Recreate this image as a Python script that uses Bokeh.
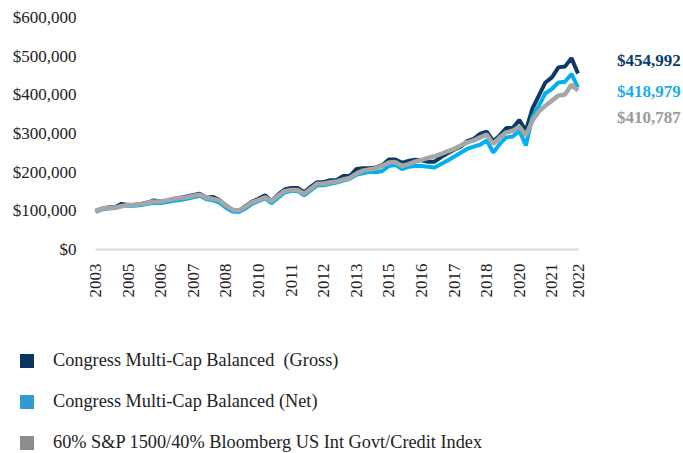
import math
from bokeh.plotting import figure
from bokeh.layouts import column, row
from bokeh.models import Range1d, NumeralTickFormatter, FixedTicker, Legend, LegendItem, Label
from bokeh.embed import file_html
from bokeh.resources import INLINE

quarters = list(range(75))

gross = [100000, 106000, 109000, 109000, 118000, 115000, 116000, 118000, 122000, 127000,
         124000, 127000, 131000, 134000, 137000, 141000, 144000, 134000, 136000, 128000,
         114000, 102000, 100000, 112000, 124000, 131000, 140000, 125000, 142000, 155000,
         159000, 159000, 148000, 162000, 174000, 174000, 179000, 180000, 190000, 190000,
         208000, 210000, 210000, 212000, 218000, 233000, 233000, 224000, 229000, 232000,
         231000, 227000, 227000, 239000, 249000, 258000, 266000, 280000, 286000, 299000,
         305000, 280000, 295000, 314000, 314000, 335000, 307000, 364000, 398000, 432000,
         445000, 471000, 473000, 495000, 454992]

net = [97000, 104000, 106000, 107000, 113000, 113000, 113000, 115000, 118000, 121000,
       120000, 123000, 126000, 128000, 131000, 135000, 139000, 130000, 127000, 121000,
       108000, 98000, 97000, 106000, 118000, 125000, 132000, 120000, 134000, 147000,
       151000, 151000, 140000, 153000, 166000, 166000, 170000, 173000, 178000, 183000,
       193000, 197000, 201000, 200000, 203000, 216000, 219000, 208000, 214000, 216000,
       216000, 214000, 212000, 221000, 230000, 240000, 250000, 260000, 266000, 271000,
       282000, 251000, 273000, 290000, 292000, 307000, 269000, 342000, 372000, 404000,
       415000, 432000, 434000, 454000, 418979]

benchmark = [100000, 106000, 108000, 108500, 112000, 115000, 116000, 118000, 121000, 124000,
             124000, 127000, 131000, 133000, 135000, 139000, 142000, 133000, 131000, 127000,
             114000, 103000, 101000, 111000, 122000, 128000, 135000, 125000, 139000, 151000,
             154000, 154000, 144000, 157000, 170000, 170000, 174000, 176000, 181000, 185000,
             196000, 204000, 207000, 210000, 216000, 225000, 226000, 216000, 221000, 227000,
             232000, 237000, 241000, 247000, 254000, 260000, 269000, 277000, 282000, 290000,
             297000, 273000, 290000, 303000, 307000, 318000, 295000, 333000, 357000, 372000,
             385000, 398000, 401000, 426000, 410787]

tick_positions = [0, 5, 10, 15, 20, 25, 30, 35, 40, 45, 50, 55, 60, 65, 70, 74]
tick_labels = ["2003", "2005", "2006", "2007", "2008", "2010", "2011", "2012",
               "2013", "2015", "2016", "2017", "2018", "2020", "2021", "2022"]
y_ticks = [0, 100000, 200000, 300000, 400000, 500000, 600000]

series_names = ["Congress Multi-Cap Balanced  (Gross)",
                "Congress Multi-Cap Balanced (Net)",
                "60% S&P 1500/40% Bloomberg US Int Govt/Credit Index"]
end_labels = ["$454,992", "$418,979", "$410,787"]
end_label_y = [489000, 408600, 341400]

FONT = "Liberation Serif"
TXT = "#222222"
line_cols = ["#0B3A67", "#00B0F0", "#A6A6A6"]
label_cols = ["#0B3A67", "#1AADEB", "#9A9A9A"]
swatch_cols = ["#0B355E", "#2E9BD5", "#8C8C8C"]

p = figure(width=683, height=300, output_backend="svg", toolbar_location=None,
           x_range=Range1d(-0.46, 90.18), y_range=Range1d(0, 600000),
           min_border_left=92, min_border_right=0, min_border_top=17, min_border_bottom=51)
p.outline_line_color = None
p.xgrid.visible = False
p.ygrid.visible = False

p.yaxis.ticker = FixedTicker(ticks=y_ticks)
p.yaxis.formatter = NumeralTickFormatter(format="$0,0")
p.yaxis.axis_line_color = None
p.yaxis.major_tick_line_color = None
p.yaxis.minor_tick_line_color = None
p.yaxis.major_tick_out = 0
p.yaxis.major_label_standoff = 16
p.yaxis.major_label_text_font = FONT
p.yaxis.major_label_text_font_size = "17px"
p.yaxis.major_label_text_color = TXT

p.xaxis.ticker = FixedTicker(ticks=tick_positions)
p.xaxis.major_label_overrides = {t: l for t, l in zip(tick_positions, tick_labels)}
p.xaxis.major_label_orientation = math.pi / 2
p.xaxis.axis_line_color = "#D9D9D9"
p.xaxis.axis_line_width = 2
p.xaxis.bounds = (0, 74)
p.xaxis.major_tick_line_color = None
p.xaxis.minor_tick_line_color = None
p.xaxis.major_tick_out = 0
p.xaxis.major_label_standoff = 14
p.xaxis.major_label_text_font = FONT
p.xaxis.major_label_text_font_size = "17px"
p.xaxis.major_label_text_color = TXT

series = [gross, net, benchmark]
widths = [4, 4, 4.5]
for vals, col, w in zip(series, line_cols, widths):
    p.line(quarters, vals, line_color=col, line_width=w)

for txt, yv, col in zip(end_labels, end_label_y, label_cols):
    p.add_layout(Label(x=80.0, y=yv, text=txt, text_font=FONT, text_font_size="17px",
                       text_font_style="bold", text_color=col, text_baseline="middle",
                       text_align="left"))

# legend panel: swatch-only renderers (zero-size square markers)
lg = figure(width=683, height=153, output_backend="svg", toolbar_location=None,
            x_range=Range1d(-0.46, 90.18), y_range=Range1d(0, 600000),
            x_axis_type=None, y_axis_type=None,
            min_border_left=0, min_border_right=0, min_border_top=0, min_border_bottom=0)
lg.outline_line_color = None
lg.xgrid.visible = False
lg.ygrid.visible = False

items = []
for name, vals, col in zip(series_names, series, swatch_cols):
    r = lg.scatter(quarters, vals, marker="square", size=0, fill_color=col, line_color=None)
    items.append(LegendItem(label=name, renderers=[r]))

legend = Legend(items=items, location=(9, -7), orientation="vertical",
                glyph_width=35, glyph_height=35, label_height=35, spacing=6,
                padding=0, margin=0, border_line_color=None, background_fill_alpha=0,
                label_standoff=9, label_text_font=FONT, label_text_font_size="18.3px",
                label_text_color=TXT)
lg.add_layout(legend, "center")

layout = column(p, row(lg))
open("out.html", "w").write(file_html(layout, INLINE))
